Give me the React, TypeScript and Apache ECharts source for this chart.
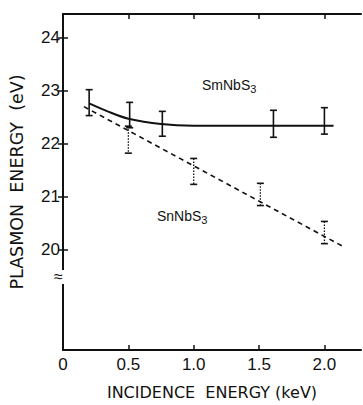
import React, { useEffect, useRef } from "react";
import * as echarts from "echarts";

const xTickValues = [0, 0.5, 1.0, 1.5, 2.0];
const yTickValues = [20, 21, 22, 23, 24];

// SmNbS3: error bars [x, low, high] and smooth curve
const smErrorBars = [
  [0.2, 22.53, 23.02],
  [0.51, 22.3, 22.78],
  [0.76, 22.14, 22.61],
  [1.61, 22.12, 22.63],
  [2.0, 22.18, 22.68],
];
const smCurve = [
  [0.2, 22.76],
  [0.35, 22.6],
  [0.5, 22.47],
  [0.75, 22.37],
  [1.0, 22.34],
  [1.6, 22.34],
  [2.07, 22.34],
];

// SnNbS3: error bars and dashed fit
const snErrorBars = [
  [0.5, 21.82, 22.33],
  [1.0, 21.23, 21.72],
  [1.51, 20.83, 21.25],
  [2.0, 20.11, 20.53],
];
const snLine = [
  [0.16, 22.7],
  [2.14, 20.06],
];

const FONT = "'Liberation Sans', 'DejaVu Sans', sans-serif";
const TITLE_FONT = "'DejaVu Sans', sans-serif";

function errorBarRender(dotted: boolean) {
  return (params: any, api: any) => {
    const x = api.value(0);
    const lo = api.value(1);
    const hi = api.value(2);
    const pHi = api.coord([x, hi]);
    const pLo = api.coord([x, lo]);
    const cap = 3.5;
    const style = {
      stroke: "#111",
      lineWidth: dotted ? 1.3 : 1.6,
      lineDash: dotted ? [1.5, 1.5] : null,
    };
    const capStyle = { stroke: "#111", lineWidth: 1.6 };
    return {
      type: "group",
      children: [
        { type: "line", shape: { x1: pHi[0], y1: pHi[1], x2: pLo[0], y2: pLo[1] }, style },
        { type: "line", shape: { x1: pHi[0] - cap, y1: pHi[1], x2: pHi[0] + cap, y2: pHi[1] }, style: capStyle },
        { type: "line", shape: { x1: pLo[0] - cap, y1: pLo[1], x2: pLo[0] + cap, y2: pLo[1] }, style: capStyle },
      ],
    };
  };
}

export default function App() {
  const ref = useRef<HTMLDivElement>(null);
  useEffect(() => {
    if (!ref.current) return;
    const chart = echarts.init(ref.current, undefined, { renderer: "svg" });
    const axisLine = { show: true, lineStyle: { color: "#111", width: 2 } };
    chart.setOption({
      animation: false,
      backgroundColor: "#fff",
      grid: { left: 60, right: 2, top: 14, bottom: 51, containLabel: false },
      xAxis: [
        {
          type: "value",
          position: "bottom",
          min: 0,
          max: 2.28,
          axisLine,
          splitLine: { show: false },
          axisTick: { inside: true, length: 5, customValues: [0.5, 1.0, 1.5, 2.0], lineStyle: { color: "#111", width: 1.5 } },
          axisLabel: {
            customValues: xTickValues,
            formatter: (v: number) => (v === 0 ? "0" : v.toFixed(1)),
            color: "#111",
            fontSize: 17,
            fontFamily: FONT,
            margin: 6,
          },
          name: "INCIDENCE  ENERGY (keV)",
          nameLocation: "middle",
          nameGap: 34,
          nameTextStyle: { color: "#111", fontSize: 16, fontFamily: TITLE_FONT },
        },
        {
          type: "value",
          position: "top",
          min: 0,
          max: 2.28,
          axisLine,
          splitLine: { show: false },
          axisTick: { inside: true, length: 5, customValues: [0.5, 1.0, 1.5, 2.0], lineStyle: { color: "#111", width: 1.5 } },
          axisLabel: { show: false },
        },
      ],
      yAxis: [
        {
          type: "value",
          position: "left",
          min: 18.1,
          max: 24.45,
          axisLine,
          splitLine: { show: false },
          axisTick: { inside: true, length: 5, customValues: yTickValues, lineStyle: { color: "#111", width: 1.5 } },
          axisLabel: {
            customValues: yTickValues,
            color: "#111",
            fontSize: 17,
            fontFamily: FONT,
            margin: 3,
          },
          name: "PLASMON  ENERGY  (eV)",
          nameLocation: "middle",
          nameGap: 37,
          nameTextStyle: { color: "#111", fontSize: 17.5, fontFamily: TITLE_FONT },
        },
        {
          type: "value",
          position: "right",
          min: 18.1,
          max: 24.45,
          axisLine,
          splitLine: { show: false },
          axisTick: { inside: true, length: 5, customValues: yTickValues, lineStyle: { color: "#111", width: 1.5 } },
          axisLabel: { show: false },
        },
      ],
      series: [
        {
          type: "line",
          data: smCurve,
          smooth: 0.3,
          showSymbol: false,
          lineStyle: { color: "#111", width: 2 },
        },
        {
          type: "line",
          data: snLine,
          showSymbol: false,
          lineStyle: { color: "#111", width: 1.6, type: [5, 4] },
        },
        {
          type: "custom",
          data: smErrorBars,
          renderItem: errorBarRender(false),
          encode: { x: 0, y: [1, 2] },
        },
        {
          type: "custom",
          data: snErrorBars,
          renderItem: errorBarRender(true),
          encode: { x: 0, y: [1, 2] },
        },
      ],
      graphic: [
        { type: "rect", left: 55, top: 270, shape: { width: 12, height: 14 }, style: { fill: "#fff" }, z: 100 },
        {
          type: "text",
          left: 54,
          top: 268,
          z: 101,
          style: { text: "≈", fontSize: 16, fontFamily: FONT, fill: "#111" },
        },
        {
          type: "text",
          left: 202,
          top: 78,
          z: 101,
          style: {
            text: "SmNbS{s|3}",
            fontSize: 14,
            fontFamily: FONT,
            fill: "#111",
            rich: { s: { fontSize: 11, fontFamily: FONT, fill: "#111", padding: [8, 0, 0, 0] } },
          },
        },
        {
          type: "text",
          left: 157,
          top: 209,
          z: 101,
          style: {
            text: "SnNbS{s|3}",
            fontSize: 14,
            fontFamily: FONT,
            fill: "#111",
            rich: { s: { fontSize: 11, fontFamily: FONT, fill: "#111", padding: [8, 0, 0, 0] } },
          },
        },
      ],
    });
    return () => chart.dispose();
  }, []);
  return <div ref={ref} style={{ width: 363, height: 405, position: "absolute", left: 0, top: 0 }} />;
}
